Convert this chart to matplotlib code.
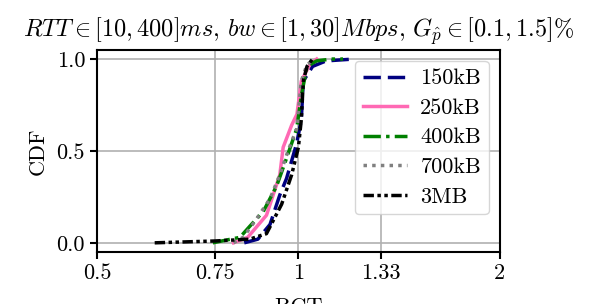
import numpy as np
import matplotlib
matplotlib.use('Agg')
import matplotlib.pyplot as plt
from matplotlib.ticker import FixedLocator, FixedFormatter, NullLocator

plt.rcParams['font.family'] = 'serif'
plt.rcParams['font.serif'] = ['cmr10']
plt.rcParams['mathtext.fontset'] = 'cm'
plt.rcParams['axes.formatter.use_mathtext'] = True
plt.rcParams['font.size'] = 16

# CDF points (RCT, cdf)
x_150k = [0.83, 0.87, 0.907, 0.938, 0.96, 0.994, 1.01, 1.017, 1.05, 1.1, 1.21]
y_150k = [0.0, 0.02, 0.10, 0.26, 0.35, 0.54, 0.67, 0.88, 0.96, 0.99, 1.0]

x_250k = [0.80, 0.84, 0.896, 0.938, 0.949, 0.977, 0.995, 1.01, 1.04, 1.065]
y_250k = [0.0, 0.03, 0.15, 0.37, 0.52, 0.64, 0.70, 0.88, 0.97, 1.0]

x_400k = [0.745, 0.818, 0.846, 0.886, 0.928, 0.96, 0.994, 1.01, 1.03, 1.065, 1.12, 1.166]
y_400k = [0.0, 0.03, 0.09, 0.17, 0.31, 0.46, 0.62, 0.80, 0.96, 0.99, 1.0, 1.0]

x_700k = [0.80, 0.827, 0.866, 0.907, 0.938, 0.965, 0.994, 1.01, 1.03, 1.06]
y_700k = [0.0, 0.03, 0.13, 0.24, 0.37, 0.50, 0.62, 0.88, 0.97, 1.0]

x_3m = [0.61, 0.75, 0.846, 0.896, 0.944, 0.977, 1.0, 1.01, 1.017, 1.03, 1.05]
y_3m = [0.0, 0.01, 0.02, 0.05, 0.21, 0.37, 0.52, 0.67, 0.88, 0.96, 1.0]

labels = ['150kB', '250kB', '400kB', '700kB', '3MB']
colors = ['navy', 'hotpink', 'green', 'gray', 'black']
styles = [(0, (5, 2)), '-', (0, (5, 1.5, 1, 1.5)), (0, (1, 1.5)), (0, (3, 1, 1, 1, 1, 1))]

xticks = [0.5, 0.75, 1, 1.33, 2]
xticklabels = ['0.5', '0.75', '1', '1.33', '2']

fig = plt.figure(figsize=(5.98, 3.04), dpi=100)
ax = fig.add_axes([0.162, 0.171, 0.674, 0.665])

series = [(x_150k, y_150k), (x_250k, y_250k), (x_400k, y_400k), (x_700k, y_700k), (x_3m, y_3m)]
for (xs, ys), lab, c, ls in zip(series, labels, colors, styles):
    ax.plot(xs, ys, color=c, linestyle=ls, linewidth=2.5, label=lab)

ax.set_xscale('log', base=2)
ax.set_xlim(0.5, 2)
ax.set_ylim(-0.05, 1.05)
ax.xaxis.set_major_locator(FixedLocator(xticks))
ax.xaxis.set_major_formatter(FixedFormatter(xticklabels))
ax.xaxis.set_minor_locator(NullLocator())
ax.set_yticks([0.0, 0.5, 1.0])
ax.set_yticklabels(['0.0', '0.5', '1.0'])
ax.grid(True, color='#b0b0b0', linewidth=1.2)
ax.set_axisbelow(True)
for s in ax.spines.values():
    s.set_linewidth(1.5)
ax.tick_params(width=1.5, length=5)

ax.set_ylabel('CDF', labelpad=6)
# the reference has the x label partly below the figure edge
ax.set_xlabel('RCT', labelpad=10)
ax.set_title(r'$RTT \in [10,400]ms,\, bw \in [1,30]Mbps,\, G_{\hat{p}} \in [0.1,1.5]\%$',
             fontsize=17.5, pad=9)
ax.legend(loc='upper right', fontsize=16, borderaxespad=0.5, handlelength=2.0,
          handletextpad=0.6, labelspacing=0.45, borderpad=0.35)

fig.savefig('out.png', dpi=100)
